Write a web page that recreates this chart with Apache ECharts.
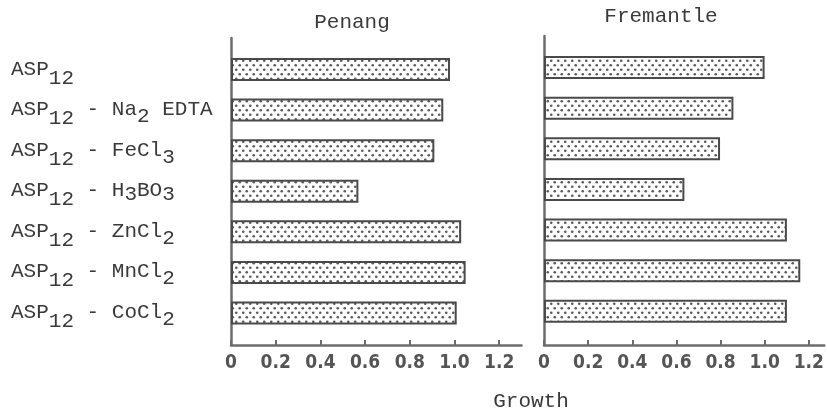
<!DOCTYPE html>
<html>
<head>
<meta charset="utf-8">
<script src="https://cdn.jsdelivr.net/npm/echarts@6/dist/echarts.min.js"></script>
<style>
  html, body { margin: 0; padding: 0; background: #fff; }
  #chart { width: 827px; height: 414px; }
</style>
</head>
<body>
<div id="chart"></div>
<script>
// Growth of the two strains on ASP12 medium with single trace elements omitted
const categories = [
  'ASP12',
  'ASP12 - Na2 EDTA',
  'ASP12 - FeCl3',
  'ASP12 - H3BO3',
  'ASP12 - ZnCl2',
  'ASP12 - MnCl2',
  'ASP12 - CoCl2'
];
const penangGrowth = [0.98, 0.95, 0.91, 0.57, 1.03, 1.05, 1.01];
const fremantleGrowth = [0.99, 0.85, 0.79, 0.63, 1.09, 1.15, 1.09];
const tickValues = [0, 0.2, 0.4, 0.6, 0.8, 1.0, 1.2];
const tickLabels = ['0', '0.2', '0.4', '0.6', '0.8', '1.0', '1.2'];
const panelTitles = ['Penang', 'Fremantle'];
const axisTitle = 'Growth';

const MONO = '"Liberation Mono", "DejaVu Sans Mono", monospace';
const NARROW = '"Liberation Sans Narrow", "DejaVu Sans Condensed", "Liberation Sans", sans-serif';
const INK = '#3a3a3a';
const AXIS = '#6c6c6c';

// Stippled fill: staggered grey dots on white
function dotTile() {
  const c = document.createElement('canvas');
  c.width = 7; c.height = 9;
  const g = c.getContext('2d');
  g.fillStyle = '#ffffff';
  g.fillRect(0, 0, 7, 9);
  g.fillStyle = '#5a5a5a';
  [[1.75, 2.25], [5.25, 6.75]].forEach(([x, y]) => {
    g.beginPath();
    g.arc(x, y, 1.3, 0, Math.PI * 2);
    g.fill();
  });
  return c;
}
const dots = { image: dotTile(), repeat: 'repeat' };

// Chemical names: digits are written as subscripts
function formatName(name) {
  return name.split(/(\d+)/).filter(s => s.length).map((part, i, arr) => {
    if (!/^\d+$/.test(part)) return '{m|' + part + '}';
    const prev = arr[i - 1] || '';
    let st = 's2';
    if (/ASP$/.test(prev)) st = 's1';
    else if (/(H|BO)$/.test(prev)) st = 's3';
    return '{' + st + '|' + part + '}';
  }).join('');
}

const baseText = { fontFamily: MONO, fontSize: 21, color: INK, lineHeight: 22, verticalAlign: 'top' };
const richStyles = {
  m: Object.assign({}, baseText),
  s1: Object.assign({}, baseText, { padding: [9, 0, 0, 0] }),
  s2: Object.assign({}, baseText, { padding: [7, 0, 0, 0] }),
  s3: Object.assign({}, baseText, { padding: [4, 0, 0, 0] })
};

function tickText(v) {
  const k = tickValues.findIndex(t => Math.abs(t - v) < 1e-9);
  return k >= 0 ? tickLabels[k] : '';
}

// Panel geometry: bar band area and the axis frame around it
const panels = [
  { left: 231, xMax: 1.30, width: 290.5, barTop: 49.2, barHeight: 284.1, axisTop: 38, axisHeight: 307, data: penangGrowth, labels: true },
  { left: 544, xMax: 1.27, width: 284.5, barTop: 47.2, barHeight: 284.4, axisTop: 36, axisHeight: 309, data: fremantleGrowth, labels: false }
];

const grid = [], xAxis = [], yAxis = [], series = [];
panels.forEach((p, i) => {
  const gBar = grid.length;
  grid.push({ left: p.left, top: p.barTop, width: p.width, height: p.barHeight });
  const gAx = grid.length;
  grid.push({ left: p.left, top: p.axisTop, width: p.width, height: p.axisHeight });

  // bar band axes
  xAxis.push({ gridIndex: gBar, type: 'value', min: 0, max: p.xMax, show: false });
  yAxis.push({
    gridIndex: gBar, type: 'category', inverse: true, data: categories,
    axisLine: { show: false }, axisTick: { show: false },
    axisLabel: {
      show: p.labels, align: 'left', margin: p.left - 11,
      formatter: formatName, rich: richStyles
    }
  });
  series.push({
    type: 'bar', xAxisIndex: gBar, yAxisIndex: gBar, data: p.data,
    barWidth: 23, silent: true,
    itemStyle: { color: dots, borderColor: '#4a4a4a', borderWidth: 2 }
  });

  // frame axes carrying the ticks and tick labels
  xAxis.push({
    gridIndex: gAx, type: 'value', min: 0, max: p.xMax, position: 'bottom',
    axisLine: { show: true, onZero: false, lineStyle: { color: AXIS, width: 2.5 } },
    axisTick: { show: true, inside: true, length: 5, customValues: tickValues, lineStyle: { color: AXIS, width: 2 } },
    axisLabel: {
      customValues: tickValues, formatter: tickText, margin: 9,
      fontFamily: NARROW, fontWeight: 'bold', fontSize: 19, color: '#555'
    },
    splitLine: { show: false }
  });
  yAxis.push({
    gridIndex: gAx, type: 'value', min: 0, max: 1,
    axisLine: { show: true, onZero: false, lineStyle: { color: AXIS, width: 2.5 } },
    axisTick: { show: false }, axisLabel: { show: false }, splitLine: { show: false }
  });
});

const chart = echarts.init(document.getElementById('chart'), null, { renderer: 'canvas' });
chart.setOption({
  animation: false,
  backgroundColor: '#ffffff',
  grid, xAxis, yAxis, series,
  graphic: [
    { type: 'text', x: 352, y: 22, style: { text: panelTitles[0], fontFamily: MONO, fontSize: 21, fill: INK, align: 'center', verticalAlign: 'middle' } },
    { type: 'text', x: 661, y: 16, style: { text: panelTitles[1], fontFamily: MONO, fontSize: 21, fill: INK, align: 'center', verticalAlign: 'middle' } },
    { type: 'text', x: 531, y: 401, style: { text: axisTitle, fontFamily: MONO, fontSize: 21, fill: INK, align: 'center', verticalAlign: 'middle' } }
  ]
});
</script>
</body>
</html>
